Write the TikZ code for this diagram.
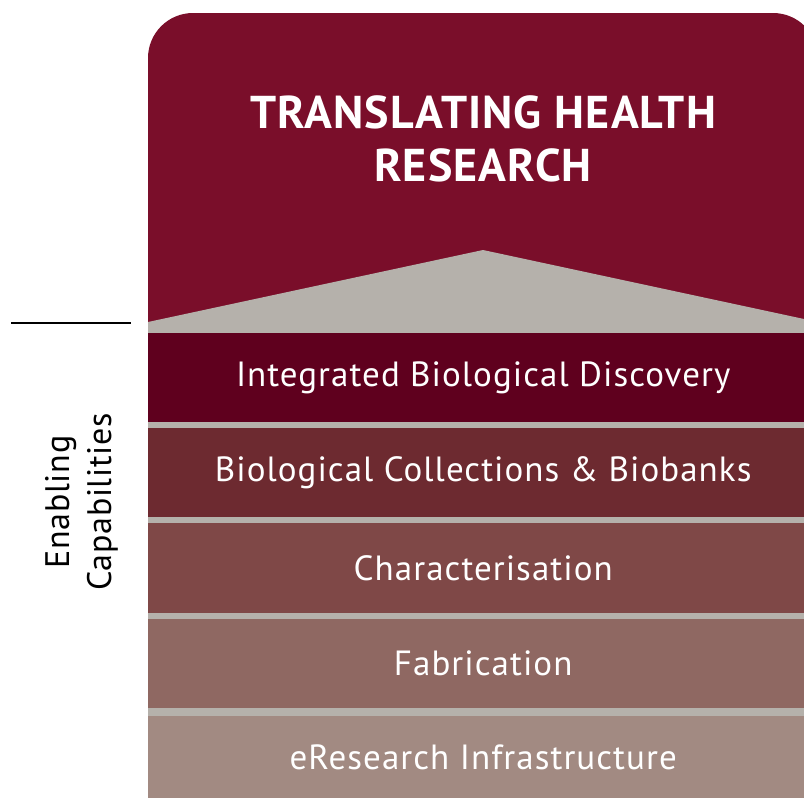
\documentclass[tikz,border=0pt]{standalone}
\usepackage{fontspec}
\setmainfont{PT Sans}
\newfontfamily\spacedfont[LetterSpace=3]{PT Sans}
\newfontfamily\sidefont[LetterSpace=2]{PT Sans}
\newfontfamily\spacedbold[LetterSpace=2.5]{PT Sans Bold}
\definecolor{topred}{RGB}{122,14,42}
\definecolor{sepgrey}{RGB}{181,177,171}
\definecolor{bandA}{RGB}{95,0,30}
\definecolor{bandB}{RGB}{109,42,48}
\definecolor{bandC}{RGB}{127,72,71}
\definecolor{bandD}{RGB}{143,104,98}
\definecolor{bandE}{RGB}{162,138,130}
\begin{document}
\begin{tikzpicture}[x=1pt,y=-1pt,
  band/.style={minimum width=670pt,inner sep=0pt,anchor=north west,text=white,
    font=\spacedfont\fontsize{35}{40}\selectfont},
  titlebox/.style={text=white,align=center,font=\spacedbold\fontsize{46}{53}\selectfont},
  sidetext/.style={rotate=90,align=center,font=\sidefont\fontsize{34}{42}\selectfont}]
\useasboundingbox (0,0) rectangle (804,798);
% top header shape
\fill[topred,rounded corners=45pt] (148,340) -- (148,13) -- (818,13) -- (818,340) [sharp corners] -- cycle;
% grey separators and chevron
\fill[sepgrey] (148,322) -- (483,250) -- (818,322) -- (818,798) -- (148,798) -- cycle;
% bands
\node[band,fill=bandA,minimum height=89pt] (b1) at (148,333) {Integrated Biological Discovery};
\node[band,fill=bandB,minimum height=89pt] (b2) at (148,428) {Biological Collections \& Biobanks};
\node[band,fill=bandC,minimum height=90pt] (b3) at (148,523) {Characterisation};
\node[band,fill=bandD,minimum height=89pt] (b4) at (148,619) {Fabrication};
\node[band,fill=bandE,minimum height=82pt] (b5) at (148,716) {eResearch Infrastructure};
% title
\node[titlebox] (title) at (483,139) {TRANSLATING HEALTH\\RESEARCH};
% side label
\node[sidetext] (side) at (82,502) {Enabling\\Capabilities};
\coordinate (l1) at (11,323);
\coordinate (l2) at (131,323);
\draw[line width=1.5pt] (l1) -- (l2);
\end{tikzpicture}
\end{document}
